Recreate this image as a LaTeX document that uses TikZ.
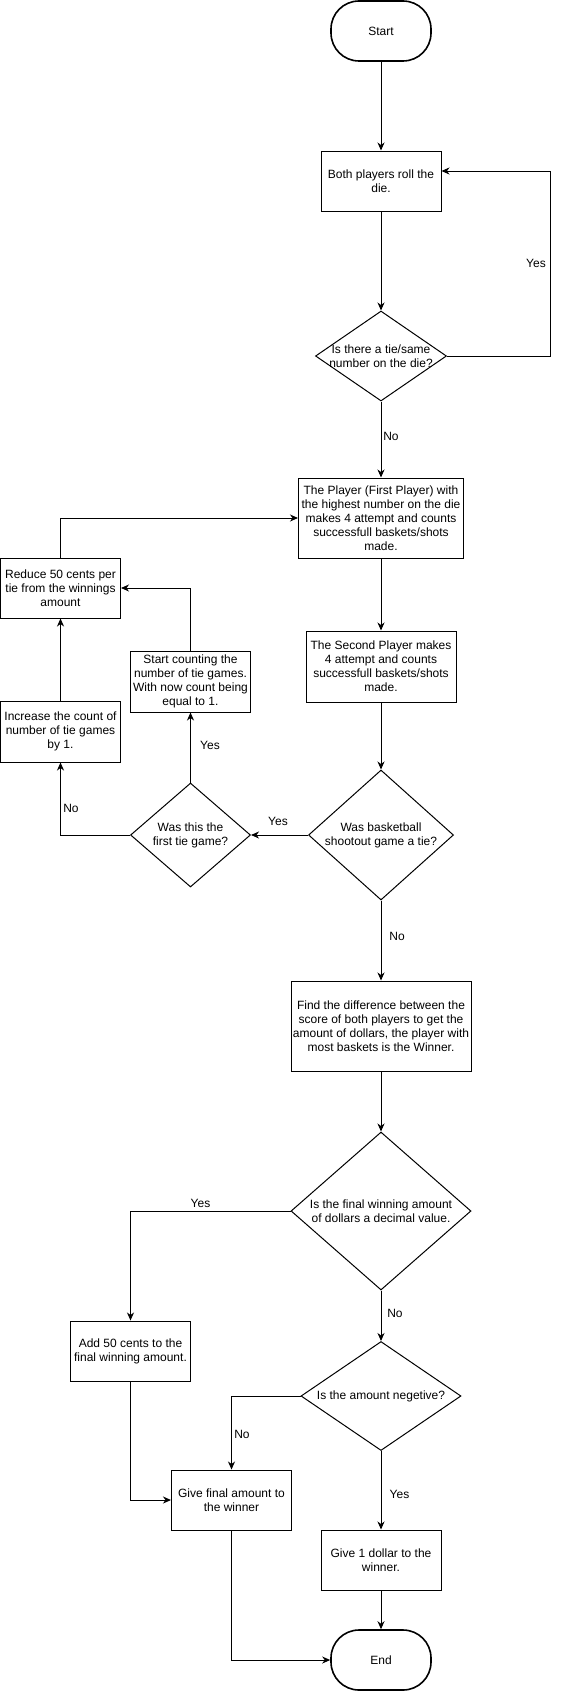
\documentclass[tikz,border=0pt]{standalone}
\usepackage{fontspec}
\setmainfont{Liberation Sans}
\usetikzlibrary{arrows.meta,shapes.geometric}

\begin{document}
\begin{tikzpicture}[x=1pt, y=-1pt, line width=1pt,
	>={Stealth[length=8pt,width=7pt,inset=2.5pt]},
	every node/.style={font=\fontsize{12}{14}\selectfont},
	terminal/.style={draw, rectangle, rounded corners=28pt, line width=1.6pt, minimum width=100pt, minimum height=60pt, inner sep=0pt},
	process/.style={draw, rectangle, align=center, inner sep=0pt},
	decision/.style={draw, diamond, inner sep=0pt},
	dtext/.style={align=center, font=\fontsize{12}{14}\selectfont},
	lbl/.style={inner sep=0pt}]
	\useasboundingbox (0,0) rectangle (560,1691);

	%main column
	\node[terminal] (start) at (381,31) {Start};
	\node[process, minimum width=120pt, minimum height=60pt] (roll) at (381,181) {Both players roll the\\die.};
	\node[decision, minimum width=131pt, minimum height=90pt,
		label={[dtext]center:{Is there a tie/same\\number on the die?}}] (tie1) at (381,356) {};
	\node[process, minimum width=165pt, minimum height=80pt] (first) at (381,518) {The Player (First Player) with\\the highest number on the die\\makes 4 attempt and counts\\successfull baskets/shots\\made.};
	\node[process, minimum width=150pt, minimum height=71pt] (second) at (381,666.5) {The Second Player makes\\4 attempt and counts\\successfull baskets/shots\\made.};
	\node[decision, minimum width=145pt, minimum height=130pt,
		label={[dtext]center:{Was basketball\\shootout game a tie?}}] (tie2) at (381,835) {};

	%tie branch
	\node[decision, minimum width=120pt, minimum height=104pt,
		label={[dtext]center:{Was this the\\first tie game?}}] (firsttie) at (190.5,835) {};
	\node[process, minimum width=120pt, minimum height=61pt] (count) at (190.5,681.5) {Start counting the\\number of tie games.\\With now count being\\equal to 1.};
	\node[process, minimum width=120pt, minimum height=61pt] (incr) at (60.5,731.5) {Increase the count of\\number of tie games\\by 1.};
	\node[process, minimum width=120pt, minimum height=60pt] (reduce) at (60.5,588) {Reduce 50 cents per\\tie from the winnings\\amount};

	%winner
	\node[process, minimum width=180pt, minimum height=90pt] (diff) at (381,1026) {Find the difference between the\\score of both players to get the\\amount of dollars, the player with\\most baskets is the Winner.};
	\node[decision, minimum width=180pt, minimum height=158pt,
		label={[dtext]center:{Is the final winning amount\\of dollars a decimal value.}}] (decimal) at (381,1211) {};
	\node[process, minimum width=120pt, minimum height=60pt] (add) at (130.5,1351) {Add 50 cents to the\\final winning amount.};
	\node[decision, minimum width=160pt, minimum height=109pt,
		label={[dtext]center:{Is the amount negetive?}}] (neg) at (381,1396) {};
	\node[process, minimum width=120pt, minimum height=60pt] (give) at (231.5,1500) {Give final amount to\\the winner};
	\node[process, minimum width=120pt, minimum height=60pt] (dollar) at (381,1560) {Give 1 dollar to the\\winner.};
	\node[terminal] (end) at (381,1660) {End};

	\coordinate (loop) at (550,171);

	%connectors
	\draw[->] (start) -- (roll);
	\draw[->] (roll) -- (tie1);
	\draw[->] (tie1.east) -| (loop) -- ([yshift=10pt]roll.east);
	\draw[->] (tie1) -- (first);
	\draw[->] (first) -- (second);
	\draw[->] (second) -- (tie2);
	\draw[->] (tie2) -- (firsttie);
	\draw[->] (firsttie) -- (count);
	\draw[->] (firsttie.west) -| (incr.south);
	\draw[->] (incr) -- (reduce);
	\draw[->] (count.north) |- (reduce.east);
	\draw[->] (reduce.north) |- (first.west);
	\draw[->] (tie2) -- (diff);
	\draw[->] (diff) -- (decimal);
	\draw[->] (decimal.west) -| (add.north);
	\draw[->] (decimal) -- (neg);
	\draw[->] (neg.west) -| (give.north);
	\draw[->] (add.south) |- (give.west);
	\draw[->] (neg) -- (dollar);
	\draw[->] (dollar) -- (end);
	\draw[->] (give.south) |- (end.west);

	%labels
	\node[lbl] (yes1) at (536,263) {Yes};
	\node[lbl] (no1) at (391,436) {No};
	\node[lbl] (yes2) at (278,821) {Yes};
	\node[lbl] (yes3) at (210,745) {Yes};
	\node[lbl] (no2) at (71,808) {No};
	\node[lbl] (no3) at (397,936) {No};
	\node[lbl] (yes4) at (200.5,1203) {Yes};
	\node[lbl] (no4) at (395,1313) {No};
	\node[lbl] (no5) at (242,1434) {No};
	\node[lbl] (yes5) at (399.5,1494) {Yes};
\end{tikzpicture}
\end{document}
